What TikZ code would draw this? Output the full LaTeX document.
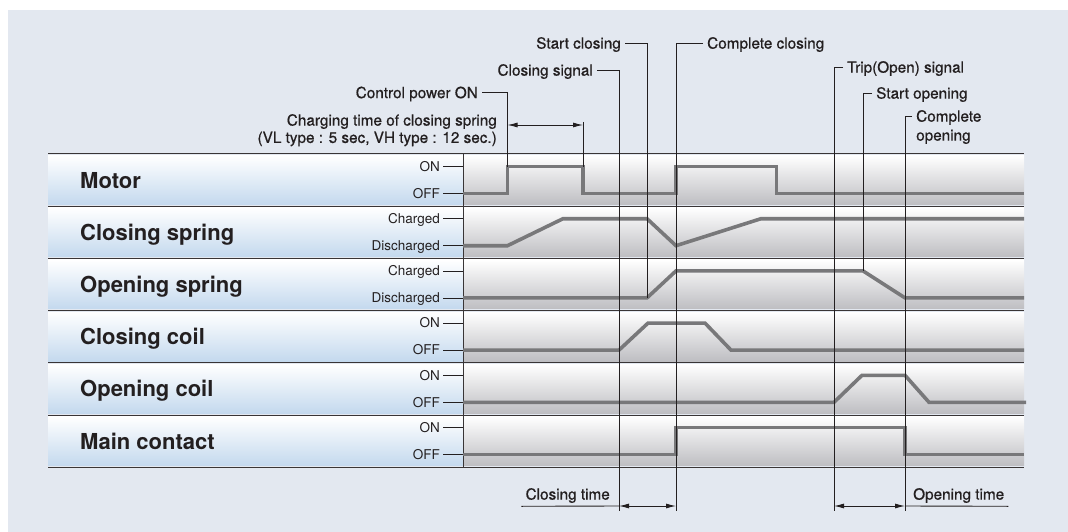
\documentclass[tikz,border=0pt]{standalone}
\usepackage{fontspec}
\setmainfont{TeX Gyre Heros}
\newfontfamily\eventfont[FakeBold=0.7]{TeX Gyre Heros}
\usetikzlibrary{arrows.meta}
\definecolor{panel}{RGB}{227,232,240}
\definecolor{ink}{RGB}{35,31,32}
\definecolor{trace}{RGB}{120,120,122}
\definecolor{cellblue}{RGB}{196,217,238}
\definecolor{cellgray}{RGB}{190,190,194}
\tikzset{
  rowname/.style={anchor=west, text=ink, inner sep=0pt, text height=15pt, text depth=0pt, font=\fontsize{22}{25}\selectfont\bfseries},
  state/.style={anchor=east, text=ink, inner xsep=3pt, inner ysep=0pt, text height=9.7pt, text depth=0pt, font=\fontsize{13.5}{16}\selectfont},
  event/.style={text=ink, inner xsep=4pt, inner ysep=0pt, text height=11.2pt, text depth=0pt, font=\fontsize{15.3}{18}\eventfont},
  rule/.style={draw=ink!90, line width=1pt},
  tick/.style={draw=ink, line width=0.8pt},
  marker/.style={draw=ink, line width=0.9pt},
  wave/.style={draw=trace, line width=3.6pt},
  span/.style={marker, {Latex[length=10pt,width=5pt]}-{Latex[length=10pt,width=5pt]}},
}
\begin{document}
\begin{tikzpicture}[x=1pt,y=-1pt]
\useasboundingbox (0,0) rectangle (1068,532);
\fill[panel] (8,10) rectangle (1068,532);

\foreach \y/\name/\up/\dn [count=\i] in {154/Motor/ON/OFF, 206.2/Closing spring/Charged/Discharged, 258.4/Opening spring/Charged/Discharged, 310.6/Closing coil/ON/OFF, 362.8/Opening coil/ON/OFF, 415/Main contact/ON/OFF}{
  \shade[top color=white, bottom color=cellblue] (48,\y+1.5) rectangle (463,\y+50.5);
  \shade[top color=white, bottom color=cellgray] (463,\y+1.5) rectangle (1024,\y+50.5);
  \draw[rule] (48,\y) -- (1024,\y);
  \node[rowname] (name\i) at (80,\y+26.5) {\name};
  \node[state] (up\i) at (443,\y+12.5) {\up};
  \node[state] (dn\i) at (443,\y+39.5) {\dn};
  \draw[tick] (up\i.east) -- ++(20,0);
  \draw[tick] (dn\i.east) -- ++(20,0);
}
\draw[rule] (48,467.2) -- (1024,467.2);
\draw[rule] (463,154) -- (463,467.2);

\draw[wave] (463,193.5) -- (507.5,193.5) -- (507.5,166.5) -- (583,166.5) -- (583,193.5) -- (676,193.5) -- (676,166.5) -- (776.5,166.5) -- (776.5,193.5) -- (1024,193.5);
\draw[wave] (463,245.7) -- (507.5,245.7) -- (563,218.7) -- (647,218.7) -- (676,245.7) -- (761,218.7) -- (1024,218.7);
\draw[wave] (463,297.9) -- (647,297.9) -- (676,270.9) -- (863,270.9) -- (905,297.9) -- (1024,297.9);
\draw[wave] (463,350.1) -- (619,350.1) -- (648,323.1) -- (705,323.1) -- (731,350.1) -- (1024,350.1);
\draw[wave] (463,402.3) -- (834,402.3) -- (862,375.3) -- (905,375.3) -- (929,402.3) -- (1026,402.3);
\draw[wave] (463,454.5) -- (676,454.5) -- (676,427.5) -- (905,427.5) -- (905,454.5) -- (1024,454.5);

\coordinate (cpOn) at (507.5,166.5);
\coordinate (chgEnd) at (583,166.5);
\coordinate (scEnd) at (647,297.9);
\coordinate (csEnd) at (619,511);
\coordinate (ccEnd) at (676,511);
\coordinate (trEnd) at (834,511);
\coordinate (soEnd) at (863,270.9);
\coordinate (coEnd) at (905,511);

\node[event, anchor=east] (power) at (482,92.5) {Control power ON};
\node[event, anchor=east] (closesig) at (597,70) {Closing signal};
\node[event, anchor=east] (startclose) at (625,43) {Start closing};
\node[event, anchor=west] (doneclose) at (703,43) {Complete closing};
\node[event, anchor=west] (trip) at (843,67) {Trip(Open) signal};
\node[event, anchor=west] (startopen) at (872,93) {Start opening};
\node[event, anchor=west] (doneopen) at (912,116) {Complete};
\node[event, anchor=west] (doneopen2) at (912,135) {opening};
\draw[marker] (power.east) -| (cpOn);
\draw[marker] (closesig.east) -| (csEnd);
\draw[marker] (startclose.east) -| (scEnd);
\draw[marker] (doneclose.west) -| (ccEnd);
\draw[marker] (trip.west) -| (trEnd);
\draw[marker] (startopen.west) -| (soEnd);
\draw[marker] (doneopen.west) -| (coEnd);

\node[event, anchor=east] (charge) at (501,120) {Charging time of closing spring};
\node[event, anchor=east] (charge2) at (501,137.3) {(VL type : 5 sec, VH type : 12 sec.)};
\coordinate (chgA) at (507.5,125);
\coordinate (chgB) at (583,125);
\draw[span] (chgA) -- (chgB);
\draw[marker] ([yshift=3pt]chgB) -- (chgEnd);

\coordinate (clA) at (619,506);
\coordinate (clB) at (676,506);
\coordinate (opA) at (834,506);
\coordinate (opB) at (905,506);
\node[event, anchor=east] (cltime) at (614,494) {Closing time};
\node[event, anchor=west] (optime) at (909,494) {Opening time};
\draw[span] (clA) -- (clB);
\draw[span] (opA) -- (opB);
\draw[marker] ([yshift=-6.5pt]cltime.south west) -- (clA);
\draw[marker] (opB) -- ([yshift=-6.5pt]optime.south east);
\end{tikzpicture}
\end{document}
